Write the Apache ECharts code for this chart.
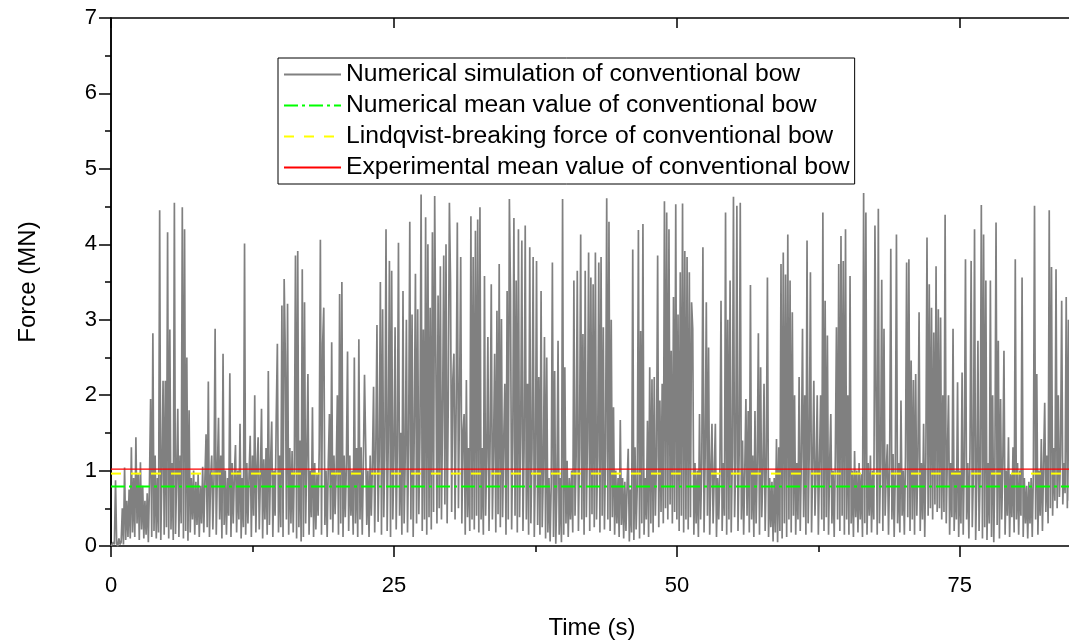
<!DOCTYPE html>
<html>
<head>
<meta charset="utf-8">
<script src="https://cdn.jsdelivr.net/npm/echarts@6/dist/echarts.min.js"></script>
<style>
  html, body { margin: 0; padding: 0; background: #fff; }
  #chart { width: 1069px; height: 643px; }
</style>
</head>
<body>
<div id="chart"></div>
<script>
// sample step of the force record (s)
var dt = 0.1;

// simulated mooring force (MN), 10 samples per second
var force = [
  0, 0.01, 0.05, 0.02, 0.87, 0.03, 0, 0.1, 0.02, 0.05,
  0.5, 0.02, 1.04, 0.08, 0.6, 0.12, 0.75, 0.1, 1.31, 0.18,
  0.9, 0.12, 1.44, 0.3, 0.95, 0.08, 1.11, 0.22, 0.8, 0.1,
  0.6, 0.15, 0.7, 0.05, 0.85, 1.95, 0.12, 2.82, 0.2, 1.2,
  0.1, 0.9, 0.18, 4.45, 0.08, 1.0, 2.19, 0.15, 2.19, 0.25,
  4.16, 0.1, 2.87, 0.22, 1.1, 0.08, 4.55, 0.16, 0.9, 1.82,
  0.12, 1.2, 0.3, 4.49, 0.1, 4.2, 0.2, 2.5, 0.07, 1.8,
  0.18, 0.9, 0.35, 1.0, 0.15, 0.85, 0.28, 0.95, 0.12, 0.8,
  0.3, 1.05, 0.18, 0.9, 1.48, 0.25, 2.18, 0.12, 0.9, 1.2,
  0.22, 0.9, 2.88, 0.15, 1.0, 1.7, 0.35, 1.2, 0.1, 2.55,
  0.28, 1.0, 0.15, 0.9, 0.4, 2.29, 0.12, 1.1, 0.3, 0.95,
  1.34, 0.18, 1.0, 0.35, 1.62, 0.1, 0.9, 0.25, 4.01, 0.15,
  1.1, 0.3, 0.95, 1.46, 0.12, 1.2, 0.4, 2.0, 0.18, 1.05,
  1.44, 0.22, 0.9, 1.82, 0.1, 1.15, 0.35, 1.3, 0.15, 2.32,
  0.28, 1.1, 1.65, 0.12, 1.0, 0.4, 1.7, 2.68, 0.18, 1.2,
  0.25, 3.19, 0.12, 3.54, 2.55, 0.35, 3.21, 0.15, 1.3, 0.3,
  1.26, 0.18, 1.1, 3.85, 0.1, 3.91, 0.25, 1.4, 0.06, 3.67,
  0.12, 3.23, 0.3, 1.2, 2.28, 0.15, 1.0, 0.38, 1.84, 0.12,
  1.1, 0.22, 0.95, 0.4, 1.3, 4.06, 0.15, 2.68, 3.16, 0.28,
  1.0, 0.12, 1.1, 1.75, 0.35, 2.7, 0.18, 1.2, 0.42, 1.0,
  2.0, 0.15, 3.34, 0.3, 3.5, 0.12, 1.2, 0.38, 1.1, 2.58,
  0.2, 1.2, 0.4, 1.0, 0.15, 2.5, 0.3, 1.3, 0.12, 2.74,
  0.35, 1.31, 0.15, 1.1, 2.27, 1.35, 0.28, 1.0, 0.12, 1.2,
  0.4, 1.1, 2.11, 0.18, 1.3, 2.93, 0.32, 1.2, 3.5, 0.15,
  3.14, 0.38, 1.3, 4.2, 0.2, 1.4, 3.78, 0.12, 3.65, 0.35,
  1.2, 2.9, 0.22, 1.3, 4.02, 0.4, 1.5, 0.15, 3.38, 0.3,
  1.2, 3.0, 0.18, 1.4, 4.3, 0.35, 3.07, 0.12, 1.6, 3.61,
  0.3, 3.14, 0.42, 1.5, 4.66, 0.2, 2.87, 0.35, 4.36, 0.15,
  4.0, 0.38, 3.16, 0.22, 4.16, 0.45, 4.64, 2.55, 0.3, 3.32,
  0.5, 3.71, 0.35, 1.8, 3.85, 0.55, 4.0, 0.3, 1.9, 4.55,
  3.5, 0.45, 2.2, 2.55, 0.35, 1.9, 4.29, 0.5, 2.0, 3.83,
  0.3, 1.5, 1.75, 0.15, 2.2, 0.38, 1.3, 0.2, 4.37, 0.35,
  3.83, 0.22, 4.18, 0.4, 4.33, 0.18, 4.49, 0.35, 1.3, 0.15,
  3.58, 0.4, 1.2, 2.77, 0.2, 1.4, 3.47, 0.35, 1.3, 2.55,
  0.18, 3.12, 0.42, 3.74, 0.25, 3.01, 0.38, 1.4, 2.15, 0.15,
  3.38, 0.35, 4.6, 3.34, 0.22, 1.4, 4.35, 0.4, 3.52, 0.18,
  4.2, 0.38, 1.5, 4.05, 0.2, 1.3, 4.25, 0.35, 2.15, 0.15,
  3.96, 0.3, 1.3, 3.83, 0.12, 1.1, 3.78, 0.28, 2.24, 0.15,
  3.38, 0.25, 1.0, 2.77, 0.1, 2.5, 0.18, 0.9, 0.06, 0.85,
  3.76, 0.12, 2.32, 0.03, 0.8, 2.72, 0.15, 0.9, 0.05, 4.6,
  0.15, 2.37, 0.3, 1.13, 0.12, 0.9, 0.35, 1.0, 0.18, 3.52,
  0.4, 1.2, 3.65, 0.2, 1.3, 4.13, 0.35, 2.81, 0.15, 3.65,
  0.38, 1.4, 3.89, 0.2, 3.56, 0.42, 3.47, 0.25, 3.89, 0.35,
  1.2, 3.76, 0.18, 3.83, 0.4, 2.9, 0.22, 1.3, 4.61, 0.35,
  4.3, 0.2, 3.0, 0.38, 1.84, 0.15, 1.0, 0.3, 0.9, 0.12,
  1.67, 0.28, 0.9, 0.1, 0.85, 0.2, 0.8, 1.29, 0.06, 0.75,
  0.18, 3.93, 0.08, 1.31, 0.22, 0.8, 4.19, 0.1, 2.85, 0.3,
  4.27, 0.15, 0.9, 0.35, 1.66, 0.12, 2.37, 0.3, 2.21, 0.18,
  2.24, 0.4, 1.2, 3.85, 0.25, 1.93, 0.45, 2.15, 0.3, 4.57,
  0.5, 4.42, 0.35, 4.2, 0.55, 2.59, 0.3, 3.3, 0.45, 4.53,
  0.35, 3.07, 0.2, 3.63, 0.4, 4.54, 0.18, 3.91, 0.35, 3.83,
  0.22, 3.63, 0.38, 3.23, 2.88, 0.15, 1.1, 0.3, 1.0, 0.12,
  1.75, 0.35, 1.1, 3.96, 0.18, 1.2, 3.23, 0.4, 2.63, 0.15,
  1.0, 1.62, 0.3, 0.95, 1.62, 0.12, 0.9, 0.35, 1.0, 3.25,
  0.2, 1.1, 0.4, 4.42, 0.15, 3.0, 0.35, 3.52, 0.18, 1.2,
  4.63, 0.38, 1.1, 4.51, 0.2, 1.2, 4.55, 0.35, 1.4, 0.15,
  1.0, 1.95, 0.4, 1.79, 0.18, 3.46, 0.35, 1.2, 0.12, 1.79,
  0.3, 1.1, 2.82, 0.15, 2.37, 0.38, 1.0, 2.15, 0.2, 1.1,
  3.56, 0.12, 0.9, 0.25, 0.85, 0.06, 0.9, 0.18, 1.42, 0.05,
  1.31, 0.2, 3.74, 0.1, 3.89, 0.3, 3.6, 0.12, 4.13, 0.35,
  3.52, 0.18, 3.1, 0.4, 2.0, 0.15, 1.1, 0.35, 2.24, 0.2,
  1.2, 2.88, 0.38, 2.0, 0.15, 4.05, 0.3, 1.3, 3.63, 0.18,
  1.1, 2.19, 0.4, 1.0, 2.0, 0.15, 1.1, 2.0, 0.35, 4.42,
  0.2, 3.25, 0.38, 2.79, 0.15, 1.1, 1.75, 0.3, 1.0, 0.12,
  1.2, 2.9, 0.35, 3.74, 0.2, 4.11, 0.4, 3.78, 0.15, 4.2,
  0.35, 2.0, 0.15, 3.58, 0.3, 1.0, 0.12, 1.26, 0.38, 1.0,
  0.18, 1.1, 0.35, 0.95, 0.12, 4.68, 0.3, 4.42, 0.15, 1.1,
  0.4, 1.2, 0.18, 1.0, 0.35, 4.25, 1.97, 0.15, 4.47, 0.3,
  1.1, 3.53, 0.2, 2.88, 0.4, 1.0, 1.35, 0.15, 1.1, 3.94,
  0.35, 1.22, 0.12, 1.0, 4.13, 0.3, 1.1, 0.18, 1.93, 0.4,
  1.0, 0.15, 1.2, 3.76, 0.38, 3.8, 0.2, 2.46, 0.35, 2.2,
  0.15, 2.28, 0.4, 1.2, 3.1, 0.2, 1.1, 0.35, 1.62, 0.12,
  1.2, 4.09, 0.4, 3.47, 0.5, 3.16, 0.35, 2.83, 0.55, 3.71,
  0.45, 3.14, 0.5, 3.03, 0.35, 2.0, 0.45, 4.39, 0.3, 1.2,
  2.0, 0.15, 1.1, 0.38, 2.88, 0.2, 1.0, 0.35, 2.17, 0.12,
  1.0, 0.3, 2.3, 0.15, 1.2, 3.8, 0.35, 1.1, 0.1, 1.3,
  3.78, 0.25, 1.0, 4.2, 0.08, 0.9, 2.72, 0.2, 1.0, 4.52,
  0.1, 4.13, 0.25, 3.52, 0.08, 1.1, 0.3, 3.52, 0.12, 2.0,
  0.05, 1.1, 4.29, 0.28, 2.72, 0.1, 1.95, 0.35, 1.1, 2.59,
  0.15, 1.0, 0.4, 1.44, 0.12, 0.95, 0.38, 1.31, 0.18, 3.8,
  0.35, 1.1, 0.15, 1.0, 0.4, 3.56, 0.12, 0.9, 0.3, 0.8,
  0.1, 0.85, 0.3, 0.9, 0.12, 1.0, 4.51, 0.35, 2.28, 0.15,
  1.0, 0.4, 1.42, 0.2, 1.1, 1.9, 0.45, 1.2, 0.3, 4.45,
  0.5, 3.7, 0.4, 1.3, 0.6, 3.67, 0.5, 2.0, 0.65, 1.2,
  3.25, 0.55, 1.1, 0.7, 3.3, 0.5, 3.0, 0.6, 1.0, 0.45,
  0.6
];

// reference levels (MN)
var numMean = 0.79;
var lindqvist = 0.96;
var expMean = 1.02;

var names = [
  'Numerical simulation of conventional bow',
  'Numerical mean value of conventional bow',
  'Lindqvist-breaking force of conventional bow',
  'Experimental mean value of conventional bow'
];

var tMax = 85;
var font = 'Liberation Sans, Arial, sans-serif';

// time/force pairs
var simData = [];
for (var i = 0; i < force.length; i++) {
  simData.push([+(i * dt).toFixed(2), force[i]]);
}
function level(v) {
  return [[0, v], [tMax, v]];
}

var chart = echarts.init(document.getElementById('chart'));

var option = {
  animation: false,
  backgroundColor: '#fff',
  textStyle: { fontFamily: font, color: '#000' },
  grid: {
    left: 111, top: 18, width: 962, height: 528,
    containLabel: false,
    outerBoundsMode: 'none'
  },
  legend: {
    orient: 'vertical',
    left: 278, top: 58,
    padding: [4, 5, 4, 5],
    itemWidth: 57, itemHeight: 10, itemGap: 6,
    borderColor: '#000', borderWidth: 1,
    backgroundColor: '#fff',
    itemStyle: { opacity: 0 },
    textStyle: { fontFamily: font, fontSize: 24.7, lineHeight: 25, color: '#000' },
    data: names
  },
  xAxis: [
    {
      type: 'value', min: 0, max: tMax, interval: 25,
      name: 'Time (s)', nameLocation: 'middle', nameGap: 70,
      nameTextStyle: { fontFamily: font, fontSize: 24, color: '#000' },
      axisLine: { lineStyle: { color: '#000', width: 1.5 } },
      axisTick: { length: 11, lineStyle: { color: '#000', width: 1.5 } },
      axisLabel: { fontFamily: font, fontSize: 22, color: '#000', margin: 29, showMaxLabel: false },
      splitLine: { show: false }
    },
    {
      // minor ticks of the bottom axis
      type: 'value', min: 0, max: tMax, interval: 12.5, position: 'bottom',
      axisLine: { show: false },
      axisTick: { length: 6, lineStyle: { color: '#000', width: 1.5 } },
      axisLabel: { show: false },
      splitLine: { show: false }
    },
    {
      type: 'value', min: 0, max: tMax, interval: 25, position: 'top',
      axisLine: { lineStyle: { color: '#000', width: 1.5 } },
      axisTick: { inside: true, length: 10, lineStyle: { color: '#000', width: 1.5 } },
      axisLabel: { show: false },
      splitLine: { show: false }
    }
  ],
  yAxis: [
    {
      type: 'value', min: 0, max: 7, interval: 1,
      name: 'Force (MN)', nameLocation: 'middle', nameGap: 71,
      nameTextStyle: { fontFamily: font, fontSize: 24, color: '#000' },
      axisLine: { show: true, lineStyle: { color: '#000', width: 1.5 } },
      axisTick: { show: true, length: 11, lineStyle: { color: '#000', width: 1.5 } },
      minorTick: { show: true, splitNumber: 2, length: 6, lineStyle: { color: '#000', width: 1.5 } },
      axisLabel: { fontFamily: font, fontSize: 22, color: '#000', margin: 14 },
      splitLine: { show: false },
      minorSplitLine: { show: false }
    },
    {
      type: 'value', min: 0, max: 7, interval: 1, position: 'right',
      axisLine: { show: true, lineStyle: { color: '#000', width: 1.5 } },
      axisTick: { show: true, inside: true, length: 12, lineStyle: { color: '#000', width: 1.5 } },
      minorTick: { show: true, splitNumber: 2, length: 5, lineStyle: { color: '#000', width: 1.5 } },
      axisLabel: { show: false },
      splitLine: { show: false },
      minorSplitLine: { show: false }
    }
  ],
  series: [
    {
      name: names[0], type: 'line', data: simData,
      symbol: 'none', showSymbol: false, sampling: 'none', silent: true,
      lineStyle: { color: '#808080', width: 1.7 },
      itemStyle: { color: '#808080' }
    },
    {
      name: names[1], type: 'line', data: level(numMean),
      symbol: 'none', silent: true,
      lineStyle: { color: '#00ff00', width: 2, type: [14, 4, 3, 4] },
      itemStyle: { color: '#00ff00' }
    },
    {
      name: names[2], type: 'line', data: level(lindqvist),
      symbol: 'none', silent: true,
      lineStyle: { color: '#ffff00', width: 2, type: [10, 10] },
      itemStyle: { color: '#ffff00' }
    },
    {
      name: names[3], type: 'line', data: level(expMean),
      symbol: 'none', silent: true,
      lineStyle: { color: '#ff0000', width: 1.2 },
      itemStyle: { color: '#ff0000' }
    }
  ]
};

chart.setOption(option);
</script>
</body>
</html>
